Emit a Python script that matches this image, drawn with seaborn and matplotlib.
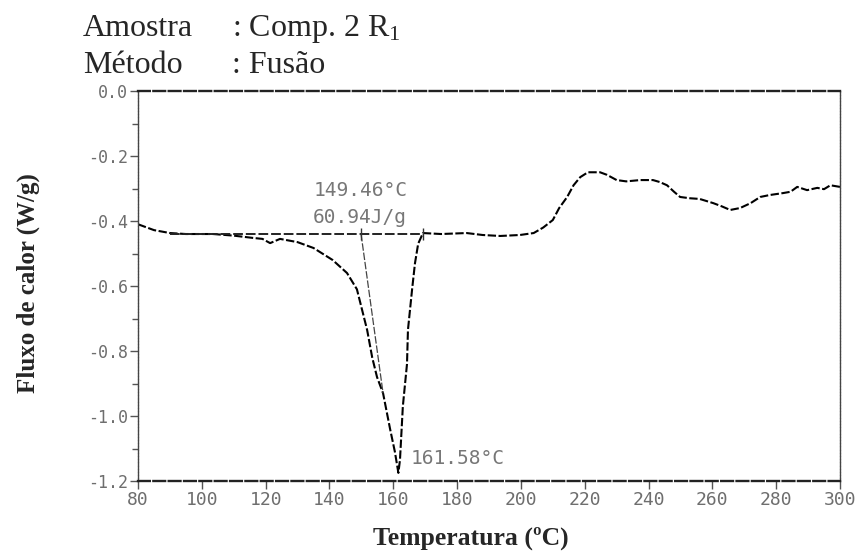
import matplotlib
matplotlib.use("Agg")
import matplotlib.pyplot as plt
import seaborn as sns
import pandas as pd
import numpy as np

# ---- data ----
temperature = [80, 85, 90, 95, 103.5, 110, 116, 119, 121.4, 124.5, 130, 135, 141, 145.5,
               148.6, 151.8, 153.4, 154.9, 156.8, 159, 160.5, 161.6, 162.1, 163, 164.3,
               164.6, 165.9, 166.8, 167.8, 169.3, 175, 183, 188, 193.5, 199.7, 204, 207,
               210, 212, 214.5, 216.5, 218.6, 221, 224.8, 227, 230, 233, 237.4, 241.4,
               243.5, 245.8, 248, 249.9, 253, 256, 258, 260.3, 263, 265.6, 268.7, 272,
               275, 278, 282.2, 284.5, 286.6, 289.7, 292.9, 295, 297, 300]
heat_flow = [-0.41, -0.428, -0.437, -0.44, -0.44, -0.445, -0.452, -0.455, -0.468, -0.455,
             -0.465, -0.483, -0.52, -0.56, -0.61, -0.735, -0.82, -0.88, -0.93, -1.04,
             -1.11, -1.175, -1.135, -0.97, -0.84, -0.735, -0.61, -0.53, -0.47, -0.437,
             -0.44, -0.437, -0.443, -0.446, -0.443, -0.437, -0.42, -0.397, -0.36, -0.326,
             -0.29, -0.265, -0.25, -0.25, -0.258, -0.274, -0.278, -0.274, -0.274, -0.28,
             -0.29, -0.31, -0.326, -0.33, -0.332, -0.338, -0.345, -0.355, -0.366, -0.36,
             -0.345, -0.326, -0.32, -0.314, -0.31, -0.295, -0.305, -0.298, -0.302, -0.29,
             -0.295]

baseline_t = [90, 169.3]
baseline_v = [-0.44, -0.44]
tangent_t = [149.9, 156.8]
tangent_v = [-0.44, -0.93]
limit_t = [149.9, 169.3]
limit_v = [-0.44, -0.44]

x_ticks = [80, 100, 120, 140, 160, 180, 200, 220, 240, 260, 280, 300]
y_ticks = [0.0, -0.2, -0.4, -0.6, -0.8, -1.0, -1.2]
y_minor = [-0.1, -0.3, -0.5, -0.7, -0.9, -1.1]

onset_label = "149.46°C"
enthalpy_label = "60.94J/g"
peak_label = "161.58°C"
title_keys = ["Amostra", "Método"]
title_vals = [": Comp. 2 R$_1$", ": Fusão"]
x_label = "Temperatura (ºC)"
y_label = "Fluxo de calor (W/g)"

sns.set_style("white")
plt.rcParams["font.family"] = ["DejaVu Sans Mono", "DejaVu Sans"]
plt.rcParams["mathtext.fontset"] = "custom"
plt.rcParams["mathtext.rm"] = "Liberation Serif"
plt.rcParams["mathtext.it"] = "Liberation Serif:italic"
plt.rcParams["mathtext.bf"] = "Liberation Serif:bold"

fig = plt.figure(figsize=(8.6, 5.55), dpi=100)
ax = fig.add_axes([0.1605, 0.1333, 0.8162, 0.7027])

df = pd.DataFrame({"T": temperature, "V": heat_flow})
sns.lineplot(data=df, x="T", y="V", ax=ax, color="black", lw=1.5,
             sort=False, linestyle=(0, (4, 1.2)))
sns.lineplot(x=baseline_t, y=baseline_v, ax=ax, color="#222222", lw=1.4,
             linestyle=(0, (5, 1.5)))
sns.lineplot(x=tangent_t, y=tangent_v, ax=ax, color="#444444", lw=0.9,
             linestyle=(0, (6, 1.5)))
ax.plot(limit_t, limit_v, linestyle="none", marker="|", markersize=9,
        color="#333333", mew=1.0)

ax.set_xlim(80, 300)
ax.set_ylim(-1.2, 0.0)
ax.set_xticks(x_ticks)
ax.set_xticklabels([str(t) for t in x_ticks])
ax.set_yticks(y_ticks)
ax.set_yticklabels([f"{v:.1f}" for v in y_ticks])
ax.set_yticks(y_minor, minor=True)
ax.tick_params(axis="both", which="major", direction="out", length=6, width=1,
               color="#555555", labelcolor="#6e6e6e", pad=1)
ax.tick_params(axis="x", labelsize=13, bottom=True)
ax.tick_params(axis="y", labelsize=12, left=True)
ax.tick_params(axis="y", which="minor", direction="out", length=4, width=1,
               color="#555555", left=True)

for side in ["top", "bottom"]:
    ax.spines[side].set_linestyle((0, (5, 1.5)))
    ax.spines[side].set_linewidth(1.7)
    ax.spines[side].set_color("#222222")
for side in ["left", "right"]:
    ax.spines[side].set_linestyle((0, (1.5, 0.8)))
    ax.spines[side].set_linewidth(1.0)
    ax.spines[side].set_color("#444444")

ax.set_xlabel("")
ax.set_ylabel("")

ann_kw = dict(color="#777777", fontsize=14, family=["DejaVu Sans Mono"])
ax.text(134.9, -0.305, onset_label, ha="left", va="center", **ann_kw)
ax.text(134.9, -0.388, enthalpy_label, ha="left", va="center", **ann_kw)
ax.text(165.3, -1.13, peak_label, ha="left", va="center", **ann_kw)

serif = ["Liberation Serif", "DejaVu Serif"]
fig.text(471 / 860, 1 - 538 / 555, x_label, ha="center", va="center",
         fontsize=18.5, fontweight="bold", family=serif)
fig.text(28 / 860, 1 - 283 / 555, y_label, ha="center", va="center", rotation=90,
         fontsize=18, fontweight="bold", family=serif)
for i, (k, v) in enumerate(zip(title_keys, title_vals)):
    yy = 1 - (36 + i * 37) / 555
    fig.text(83 / 860, yy, k, ha="left", va="baseline", fontsize=23, family=serif)
    fig.text(232 / 860, yy, v, ha="left", va="baseline", fontsize=23, family=serif)

fig.savefig("out.png", dpi=100, facecolor="white")
